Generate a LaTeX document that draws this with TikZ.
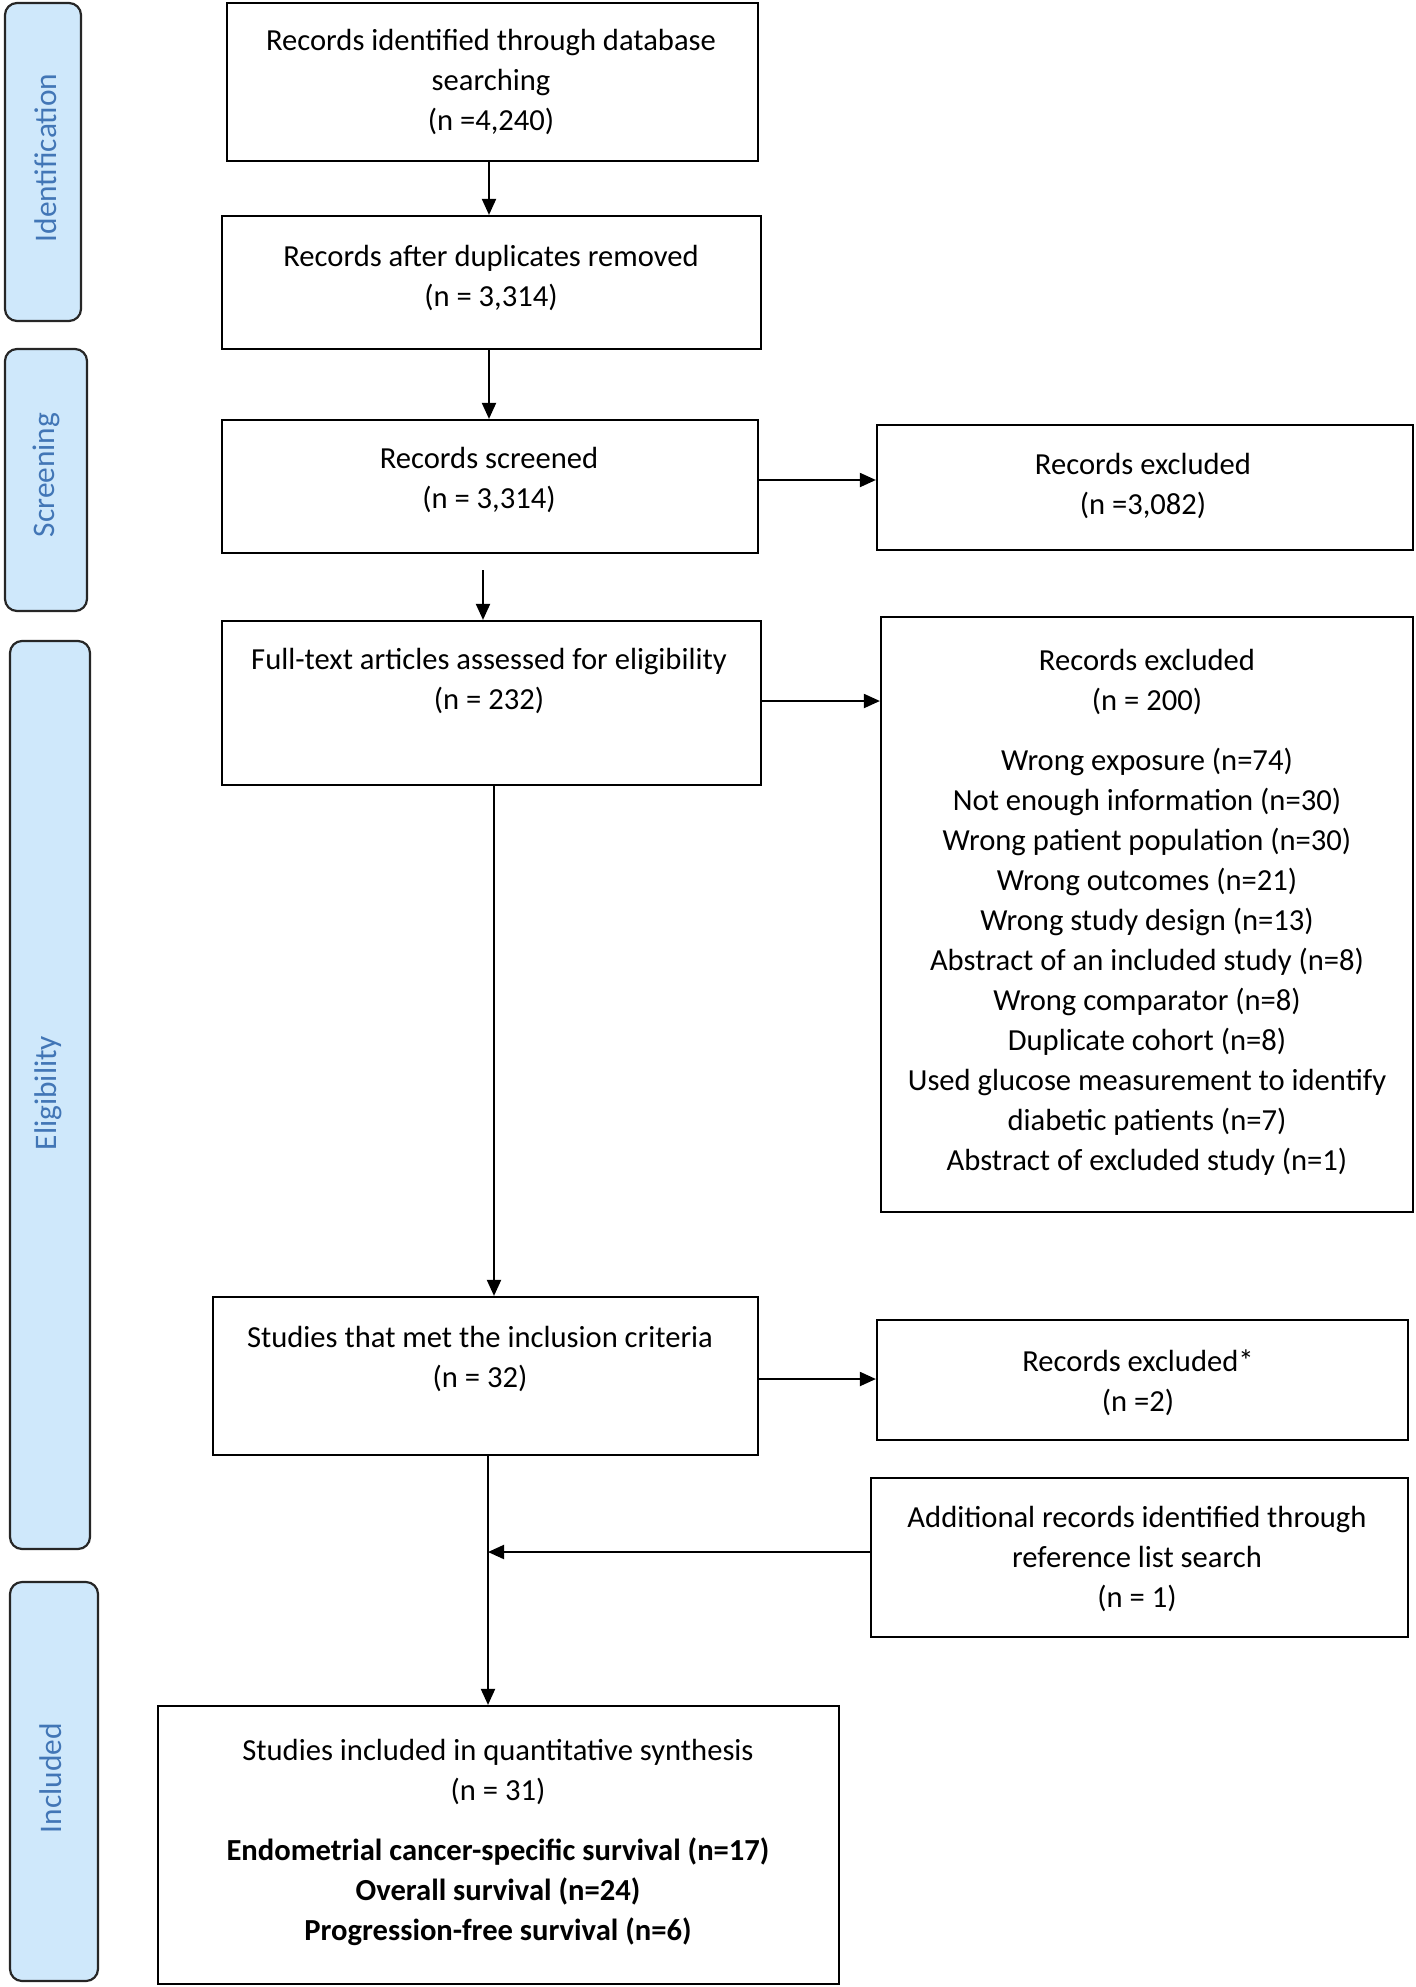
\documentclass[tikz,border=0pt]{standalone}
\usepackage{fontspec}
\setmainfont{Carlito}
\usetikzlibrary{arrows.meta,calc}
\definecolor{sidefill}{HTML}{CFE8FB}
\definecolor{sidetext}{HTML}{4276B6}
\begin{document}
\begin{tikzpicture}[x=0.5pt,y=-0.5pt,
  box/.style={draw,line width=1.1pt,inner sep=0pt},
  txt/.style={align=center,inner sep=0pt,font=\fontsize{15.3}{20}\selectfont},
  side/.style={draw=black!85,line width=1.1pt,fill=sidefill,rounded corners=6pt,inner sep=0pt},
  sidelbl/.style={rotate=90,text=sidetext,inner sep=0pt,font=\fontsize{15.7}{18}\selectfont},
  arr/.style={line width=1pt,-{Triangle[length=8pt,width=7pt]}}]
\useasboundingbox (0,0) rectangle (1416,1987);
% side bars
\node[side,minimum width=38pt,minimum height=159pt] (s1) at (43,162) {};
\node[sidelbl] (s1t) at (46,158) {Identification};
\node[side,minimum width=41pt,minimum height=131pt] (s2) at (46,480) {};
\node[sidelbl] (s2t) at (46,475) {Screening};
\node[side,minimum width=40pt,minimum height=454pt] (s3) at (50,1095) {};
\node[sidelbl] (s3t) at (48,1093) {Eligibility};
\node[side,minimum width=44pt,minimum height=199.5pt] (s4) at (54,1781.5) {};
\node[sidelbl] (s4t) at (51,1778) {Included};
% main boxes
\node[box,minimum width=265.5pt,minimum height=79pt] (b1) at (492.5,82) {};
\node[txt] (b1t) at (491,82) {Records identified through database\\searching\\(n =4,240)};
\node[box,minimum width=269.5pt,minimum height=66.5pt] (b2) at (491.5,282.5) {};
\node[txt] (b2t) at (491,278) {Records after duplicates removed\\(n = 3,314)};
\node[box,minimum width=268pt,minimum height=66.5pt] (b3) at (490,486.5) {};
\node[txt] (b3t) at (489,480) {Records screened\\(n = 3,314)};
\node[box,minimum width=268pt,minimum height=62.5pt] (r1) at (1145,487.5) {};
\node[txt] (r1t) at (1143,486) {Records excluded\\(n =3,082)};
\node[box,minimum width=269.5pt,minimum height=82pt] (b4) at (491.5,703) {};
\node[txt] (b4t) at (489,681) {Full-text articles assessed for eligibility\\(n = 232)};
\node[box,minimum width=266pt,minimum height=297.5pt] (r2) at (1147,914.5) {};
\node[txt] (r2t) at (1147,912) {Records excluded\\(n = 200)\\[10pt]
Wrong exposure (n=74)\\Not enough information (n=30)\\Wrong patient population (n=30)\\
Wrong outcomes (n=21)\\Wrong study design (n=13)\\Abstract of an included study (n=8)\\
Wrong comparator (n=8)\\Duplicate cohort (n=8)\\Used glucose measurement to identify\\
diabetic patients (n=7)\\Abstract of excluded study (n=1)};
\node[box,minimum width=272.5pt,minimum height=79pt] (b5) at (485.5,1376) {};
\node[txt] (b5t) at (480,1359) {Studies that met the inclusion criteria\\(n = 32)};
\node[box,minimum width=265.5pt,minimum height=60pt] (r3) at (1142.5,1380) {};
\node[txt] (r3t) at (1138,1383) {Records excluded*\\(n =2)};
\node[box,minimum width=268.5pt,minimum height=79.5pt] (r4) at (1139.5,1557.5) {};
\node[txt] (r4t) at (1137,1559) {Additional records identified through\\reference list search\\(n = 1)};
\node[box,minimum width=340.5pt,minimum height=139pt] (b6) at (498.5,1845) {};
\node[txt] (b6t) at (498,1842) {Studies included in quantitative synthesis\\(n = 31)\\[10pt]
\textbf{Endometrial cancer-specific survival (n=17)}\\\textbf{Overall survival (n=24)}\\\textbf{Progression-free survival (n=6)}};
% connectors
\coordinate (c1) at (489,0);
\coordinate (c2) at (483,0);
\coordinate (c3) at (494,0);
\coordinate (c4) at (488,0);
\draw[arr] (b1.south -| c1) -- (b2.north -| c1);
\draw[arr] (b2.south -| c1) -- (b3.north -| c1);
\draw[arr] (b3.east |- 0,480) -- (r1.west |- 0,480);
\draw[arr,shorten <=8pt] (b3.south -| c2) -- (b4.north -| c2);
\draw[arr] (b4.east |- 0,701) -- (r2.west |- 0,701);
\draw[arr] (b4.south -| c3) -- (b5.north -| c3);
\draw[arr] (b5.east |- 0,1379) -- (r3.west |- 0,1379);
\draw[arr] (b5.south -| c4) -- (b6.north -| c4);
\coordinate (j) at (488,1552);
\draw[arr] (r4.west |- j) -- (j);
\end{tikzpicture}
\end{document}
